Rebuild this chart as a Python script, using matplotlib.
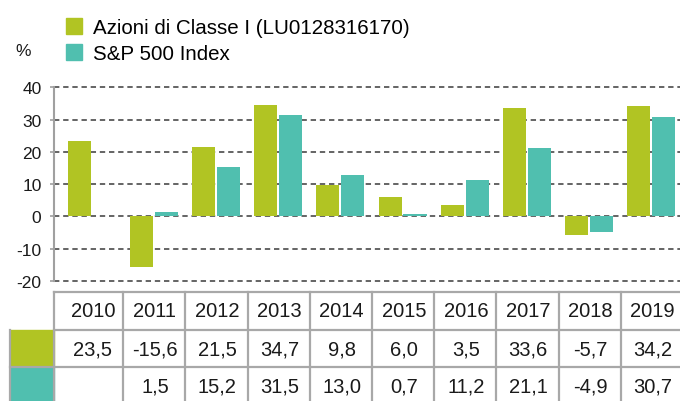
import numpy as np
import matplotlib
matplotlib.use("Agg")
import matplotlib.pyplot as plt
from matplotlib.patches import Rectangle, Patch

years = ["2010", "2011", "2012", "2013", "2014", "2015", "2016", "2017", "2018", "2019"]
fund = [23.5, -15.6, 21.5, 34.7, 9.8, 6.0, 3.5, 33.6, -5.7, 34.2]
index = [np.nan, 1.5, 15.2, 31.5, 13.0, 0.7, 11.2, 21.1, -4.9, 30.7]
fund_label = "Azioni di Classe I (LU0128316170)"
index_label = "S&P 500 Index"
yticks = [-20, -10, 0, 10, 20, 30, 40]

green = "#b1c423"
teal = "#50bfaf"
grid_c = "#3a3a3a"
line_c = "#a8a8a8"

plt.rcParams['font.family'] = ['Liberation Sans', 'DejaVu Sans']

W, H = 680, 402
fig = plt.figure(figsize=(W / 100, H / 100), dpi=100)

def fbox(x0, y0, x1, y1):
    # pixel box (top-left origin) -> figure fraction rect
    return [x0 / W, 1 - y1 / H, (x1 - x0) / W, (y1 - y0) / H]

xl = (-0.603, 9.46)
ax = fig.add_axes(fbox(54, 88.4, 680, 282))
x = np.arange(len(years))
bw = 0.37
ax.bar(x - 0.2, fund, bw, color=green, zorder=3)
ax.bar(x + 0.2, index, bw, color=teal, zorder=3)
ax.set_xlim(*xl)
ax.set_ylim(-20, 40)
ax.set_yticks(yticks)
ax.set_yticklabels([str(t) for t in yticks], fontsize=12.5, color="#1a1a1a")
ax.set_xticks([])
for t in yticks:
    ax.axhline(t, color=grid_c, lw=1.1, ls=(0, (3.5, 2.5)), zorder=1, clip_on=False)
for s in ["top", "right", "bottom"]:
    ax.spines[s].set_visible(False)
ax.spines["left"].set_color("#a0a0a0")
ax.spines["left"].set_linewidth(1.5)
ax.tick_params(axis="y", length=3, width=1.2, color="#a0a0a0", pad=6)

fig.text(15 / W, 1 - 52 / H, "%", fontsize=12.5, va="center", ha="left", color="#1a1a1a")

handles = [Patch(color=green, label=fund_label), Patch(color=teal, label=index_label)]
fig.legend(handles=handles, loc="upper left", bbox_to_anchor=(66 / W, 1 - 19 / H),
           frameon=False, fontsize=14.8, handlelength=0.8, handleheight=0.8,
           handletextpad=0.5, labelspacing=0.33, borderpad=0, borderaxespad=0)

# table
tx0 = xl[0] - (54 - 10) / 62.2
tab = fig.add_axes(fbox(10, 293, 680, 402))
tab.set_xlim(tx0, xl[1])
tab.set_ylim(2.89, 0)
tab.axis("off")
bounds = [xl[0]] + [i + 0.51 for i in range(len(years))]
lw = 1.6
tab.add_patch(Rectangle((tx0, 1), xl[0] - tx0, 1, color=green, zorder=1))
tab.add_patch(Rectangle((tx0, 2), xl[0] - tx0, 1, color=teal, zorder=1))
tab.plot([xl[0], xl[1] + 1], [0, 0], color=line_c, lw=lw, clip_on=False)
tab.plot([xl[0], xl[1] + 1], [1, 1], color=line_c, lw=lw, clip_on=False)
tab.plot([tx0, xl[1] + 1], [2, 2], color=line_c, lw=lw, clip_on=False)
tab.plot([tx0, tx0], [1, 3], color=line_c, lw=lw, clip_on=False)
for b in bounds:
    tab.plot([b, b], [0, 3], color=line_c, lw=lw, clip_on=False)
for i, yr in enumerate(years):
    tab.text(i + 0.02, 0.5, yr, ha="center", va="center", fontsize=14.5, color="#1a1a1a")
    tab.text(i + 0.02, 1.5, f"{fund[i]:.1f}".replace(".", ","), ha="center", va="center",
             fontsize=14.5, color="#1a1a1a")
    if not np.isnan(index[i]):
        tab.text(i + 0.02, 2.5, f"{index[i]:.1f}".replace(".", ","), ha="center", va="center",
                 fontsize=14.5, color="#1a1a1a")

fig.savefig("out.png", dpi=100)
